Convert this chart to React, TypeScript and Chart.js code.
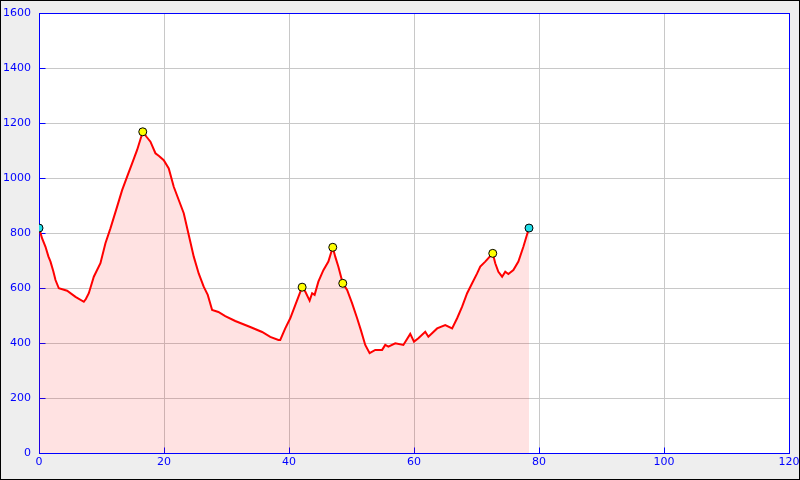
import React, { useEffect, useRef } from "react";
import { Chart, registerables } from "chart.js";

Chart.register(...registerables);

const distanceKm = [0, 0.5, 1.04, 1.5, 1.84, 2.3, 2.64, 3.17, 4.5, 5.84, 7.17, 7.5, 7.97, 8.77, 9.83, 10.63, 11.43, 12.5, 13.3, 14.1, 14.9, 15.7, 16.6, 17.2, 17.83, 18.63, 19.2, 19.96, 20.76, 21.56, 22.36, 23.16, 23.96, 24.76, 25.55, 26.35, 27.0, 27.7, 28.7, 29.8, 31.4, 33.8, 35.7, 37.0, 38.3, 38.6, 39.4, 40.2, 41.0, 42.1, 42.6, 43.3, 43.7, 44.1, 44.7, 45.5, 46.3, 47.0, 47.4, 47.9, 48.6, 49.3, 50.1, 50.9, 51.5, 52.2, 52.9, 53.8, 54.9, 55.4, 55.9, 57.0, 58.3, 59.4, 60.0, 60.7, 61.8, 62.3, 63.7, 65.0, 66.1, 66.9, 67.7, 68.5, 69.3, 70.1, 70.6, 71.4, 72.6, 73.0, 73.5, 74.1, 74.6, 75.1, 75.9, 76.7, 77.5, 78.4];
const elevationM = [818, 780, 750, 715, 696, 660, 629, 599, 590, 568, 550, 560, 581, 641, 690, 763, 817, 896, 956, 1005, 1053, 1102, 1168, 1150, 1132, 1090, 1080, 1065, 1035, 968, 920, 872, 793, 714, 653, 605, 575, 520, 513, 498, 480, 458, 440, 422, 411, 411, 453, 490, 538, 603, 587, 554, 581, 575, 623, 665, 696, 748, 714, 677, 617, 593, 544, 490, 447, 393, 363, 375, 375, 393, 387, 399, 393, 433, 405, 417, 441, 423, 453, 465, 453, 490, 532, 581, 617, 653, 678, 696, 726, 690, 659, 641, 659, 651, 665, 696, 750, 818];

const markerKm = [0, 16.6, 42.1, 47.0, 48.6, 72.6, 78.4];
const markerElev = [818, 1168, 603, 748, 617, 726, 818];
const markerColors = ["#22dde8", "#ffff00", "#ffff00", "#ffff00", "#ffff00", "#ffff00", "#22dde8"];

const xTicks = [0, 20, 40, 60, 80, 100, 120];
const yTicks = [0, 200, 400, 600, 800, 1000, 1200, 1400, 1600];

const AXIS_BLUE = "#0000ff";

const framePlugin = {
  id: "frame",
  beforeDraw(chart: any) {
    const { ctx, width, height, chartArea } = chart;
    ctx.save();
    ctx.fillStyle = "#eeeeee";
    ctx.fillRect(0, 0, width, height);
    ctx.strokeStyle = "#000000";
    ctx.lineWidth = 1;
    ctx.strokeRect(0.5, 0.5, width - 1, height - 1);
    ctx.fillStyle = "#ffffff";
    ctx.fillRect(chartArea.left, chartArea.top, chartArea.right - chartArea.left, chartArea.bottom - chartArea.top);
    ctx.restore();
  },
  beforeDatasetsDraw(chart: any) {
    const { ctx, chartArea, scales } = chart;
    const l = Math.round(chartArea.left) + 0.5;
    const r = Math.round(chartArea.right) + 0.5;
    const t = Math.round(chartArea.top) + 0.5;
    const b = Math.round(chartArea.bottom) + 0.5;
    ctx.save();
    ctx.strokeStyle = AXIS_BLUE;
    ctx.lineWidth = 1;
    ctx.strokeRect(l, t, r - l, b - t);
    ctx.beginPath();
    for (const v of xTicks) {
      const px = Math.round(scales.x.getPixelForValue(v)) + 0.5;
      ctx.moveTo(px, b);
      ctx.lineTo(px, b - 6);
    }
    for (const v of yTicks) {
      const py = Math.round(scales.y.getPixelForValue(v)) + 0.5;
      ctx.moveTo(l, py);
      ctx.lineTo(l + 6, py);
    }
    ctx.stroke();
    ctx.restore();
  },
};

const zeroPad = (s: any) => {
  s.paddingLeft = 0;
  s.paddingRight = 0;
  s.paddingTop = 0;
  s.paddingBottom = 0;
};

export default function App() {
  const ref = useRef<HTMLCanvasElement | null>(null);

  useEffect(() => {
    document.body.style.margin = "0";
    const canvas = ref.current;
    if (!canvas) return;
    const profile = distanceKm.map((x, i) => ({ x, y: elevationM[i] }));
    const markers = markerKm.map((x, i) => ({ x, y: markerElev[i] }));
    const chart = new Chart(canvas, {
      type: "line",
      data: {
        datasets: [
          {
            data: markers,
            showLine: false,
            pointRadius: 4,
            pointHoverRadius: 4,
            pointBackgroundColor: markerColors,
            pointBorderColor: "#000000",
            pointBorderWidth: 1,
            order: 0,
          },
          {
            data: profile,
            borderColor: "#ff0000",
            borderWidth: 2,
            backgroundColor: "rgba(255,0,0,0.115)",
            fill: "origin",
            pointRadius: 0,
            tension: 0,
            order: 1,
          },
        ],
      },
      options: {
        animation: false,
        responsive: false,
        maintainAspectRatio: false,
        devicePixelRatio: 1,
        layout: { padding: { top: 13, right: 11, left: 0, bottom: 0 } },
        plugins: { legend: { display: false }, tooltip: { enabled: false } },
        scales: {
          x: {
            type: "linear",
            min: 0,
            max: 120,
            afterFit: (s: any) => { s.height = 27; zeroPad(s); },
            afterBuildTicks: (s: any) => { s.ticks = xTicks.map((v) => ({ value: v })); },
            grid: { color: "#c8c8c8", drawTicks: false },
            border: { display: false },
            ticks: { color: AXIS_BLUE, padding: 3, maxRotation: 0, callback: (v: any) => String(v), font: { family: "DejaVu Sans", size: 11 } },
          },
          y: {
            type: "linear",
            min: 0,
            max: 1600,
            afterFit: (s: any) => { s.width = 39; zeroPad(s); },
            afterBuildTicks: (s: any) => { s.ticks = yTicks.map((v) => ({ value: v })); },
            grid: { color: "#c8c8c8", drawTicks: false },
            border: { display: false },
            ticks: { color: AXIS_BLUE, padding: 8, callback: (v: any) => String(v), font: { family: "DejaVu Sans", size: 11 } },
          },
        },
      },
      plugins: [framePlugin],
    });
    return () => chart.destroy();
  }, []);

  return <canvas ref={ref} width={800} height={480} style={{ display: "block", width: 800, height: 480 }} />;
}
